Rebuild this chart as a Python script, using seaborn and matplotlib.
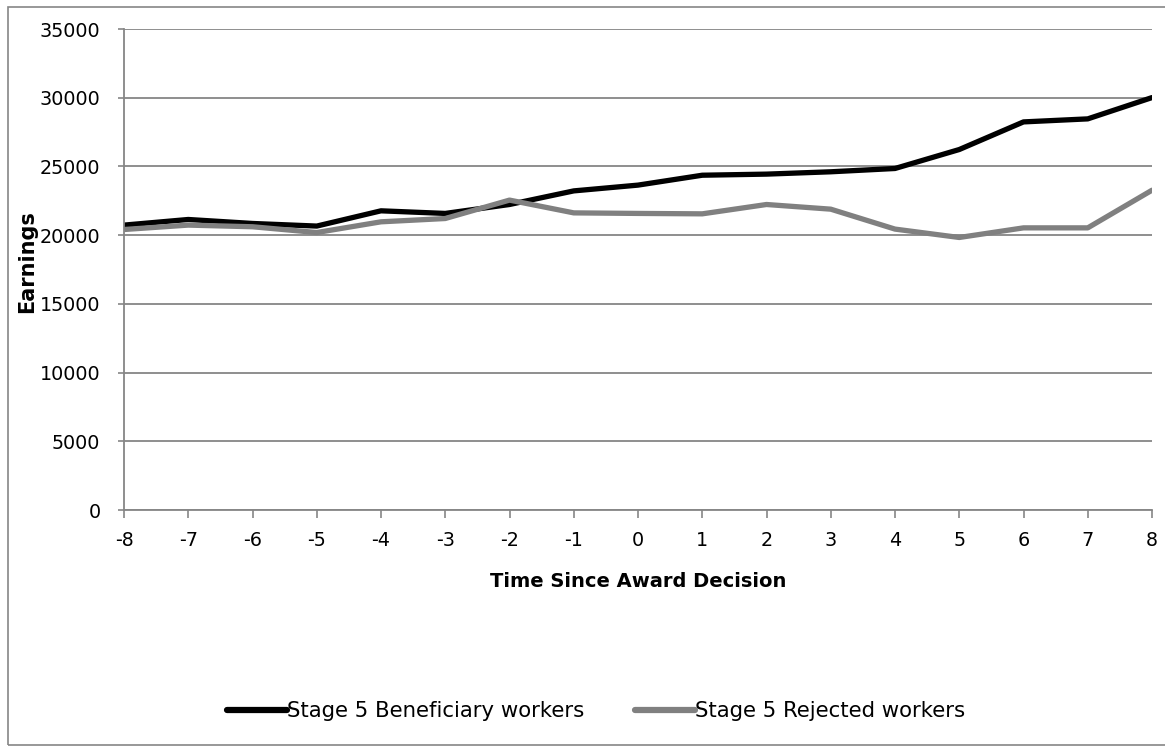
import matplotlib
matplotlib.use("Agg")
import matplotlib.pyplot as plt
import seaborn as sns
import pandas as pd
from matplotlib.patches import Rectangle

years = [-8, -7, -6, -5, -4, -3, -2, -1, 0, 1, 2, 3, 4, 5, 6, 7, 8]
beneficiary = [20730, 21140, 20850, 20660, 21770, 21580, 22230, 23220, 23640,
               24360, 24440, 24610, 24850, 26230, 28240, 28460, 30010]
rejected = [20410, 20730, 20610, 20190, 20970, 21210, 22550, 21620, 21580,
            21550, 22230, 21890, 20440, 19830, 20530, 20530, 23270]
series_names = ["Stage 5 Beneficiary workers", "Stage 5 Rejected workers"]
y_ticks = [0, 5000, 10000, 15000, 20000, 25000, 30000, 35000]

df = pd.DataFrame({
    "Time": years * 2,
    "Earnings": beneficiary + rejected,
    "Series": [series_names[0]] * len(years) + [series_names[1]] * len(years),
})

sns.set_style("white")
plt.rcParams["font.family"] = ["DejaVu Sans"]
plt.rcParams["text.color"] = "#000000"
plt.rcParams["axes.labelcolor"] = "#000000"

fig = plt.figure(figsize=(11.65, 7.47), dpi=100)
ax = fig.add_axes([124 / 1165, 1 - 510 / 747, 1028 / 1165, 481 / 747])

sns.lineplot(data=df, x="Time", y="Earnings", hue="Series",
             palette={series_names[0]: "#000000", series_names[1]: "#808080"},
             linewidth=3.8, ax=ax, legend=True)

ax.set_xlim(-8, 8)
ax.set_ylim(0, 35000)
ax.set_yticks(y_ticks)
ax.set_yticklabels([str(v) for v in y_ticks])
ax.set_xticks(years)
ax.set_xticklabels([str(v) for v in years])

ax.grid(axis="y", color="#868686", linewidth=1.3)
ax.grid(axis="x", visible=False)
ax.set_axisbelow(True)
for s in ["top", "right"]:
    ax.spines[s].set_visible(False)
for s in ["left", "bottom"]:
    ax.spines[s].set_color("#868686")
    ax.spines[s].set_linewidth(1.3)

ax.tick_params(axis="y", which="both", direction="out", length=4, width=1.2,
               color="#868686", left=True, pad=13, labelsize=13.8, labelcolor="#000000")
ax.tick_params(axis="x", which="both", direction="out", length=6, width=1.2,
               color="#868686", bottom=True, pad=9, labelsize=13.8, labelcolor="#000000")

ax.set_xlabel("Time Since Award Decision", fontsize=14, fontweight="bold",
              labelpad=16, color="#000000")
ax.set_ylabel("Earnings", fontsize=15, fontweight="bold", color="#000000")
ax.yaxis.set_label_coords(-0.0846, 0.516)

handles, labels = ax.get_legend_handles_labels()
ax.legend_.remove()
leg = fig.legend(handles, labels, loc="center", bbox_to_anchor=(596 / 1165, 1 - 711 / 747),
                 ncol=2, frameon=False, fontsize=15.3, handlelength=2.8,
                 handletextpad=0.0, columnspacing=2.4)
for line in leg.get_lines():
    line.set_linewidth(4.5)
for t in leg.get_texts():
    t.set_color("#000000")

border = Rectangle((8 / 1165, 2 / 747), 1.2, 1 - 9 / 747, transform=fig.transFigure,
                   fill=False, edgecolor="#868686", linewidth=1.2)
fig.patches.append(border)

fig.savefig("out.png", dpi=100)
